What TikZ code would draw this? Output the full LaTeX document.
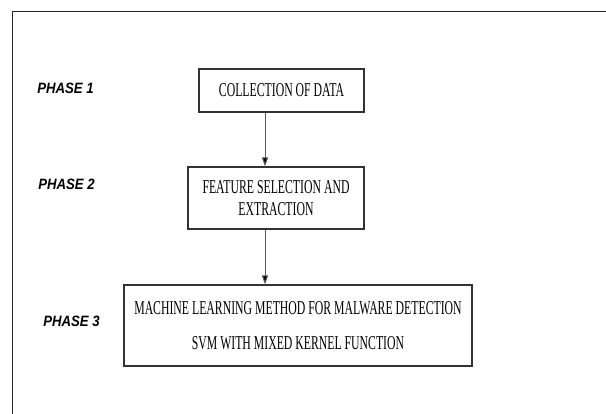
\documentclass[tikz,border=0pt]{standalone}
\usepackage{fontspec}
\usepackage{tikz}
\usetikzlibrary{arrows.meta}
\newfontfamily\boxfont[FakeStretch=0.6]{Liberation Serif}
\newfontfamily\phasefont[FakeStretch=0.88]{Liberation Sans}

\begin{document}
\begin{tikzpicture}[x=1pt, y=-1pt,
        phasebox/.style={draw=black!80, line width=1.1pt, fill=white, align=center,
            inner sep=0pt, font=\boxfont\fontsize{19.6}{22}\selectfont},
        phaselabel/.style={inner sep=0pt, font=\phasefont\bfseries\itshape\fontsize{15}{18}\selectfont},
        flow/.style={draw=black!65, line width=1pt, -{Triangle[length=9pt, width=6pt, fill=black]}}]
        \useasboundingbox (0, 0) rectangle (606, 414);
        % Frame
        \draw[line width=1pt, black!85] (606, 12) -- (12, 12) -- (12, 414);

        % Nodes
        \node[phasebox, minimum width=165pt, minimum height=43pt] (collect) at (281.5, 90.5) {COLLECTION OF DATA};
        \node[phasebox, minimum width=176pt, minimum height=62pt] (feature) at (276, 198) {FEATURE SELECTION AND\\EXTRACTION};
        \node[phasebox, minimum width=348pt, minimum height=81pt] (svm) at (298, 325.5) {MACHINE LEARNING METHOD FOR MALWARE DETECTION\\[13pt]SVM WITH MIXED KERNEL FUNCTION};
        \node[phaselabel] (p1) at (65.5, 88) {PHASE 1};
        \node[phaselabel] (p2) at (66.5, 184) {PHASE 2};
        \node[phaselabel] (p3) at (71.5, 321) {PHASE 3};
        \coordinate (spine) at (265, 0);

        % Arrows
        \draw[flow] (collect.south -| spine) -- (feature.north -| spine);
        \draw[flow] (feature.south -| spine) -- (svm.north -| spine);
    \end{tikzpicture}
\end{document}
